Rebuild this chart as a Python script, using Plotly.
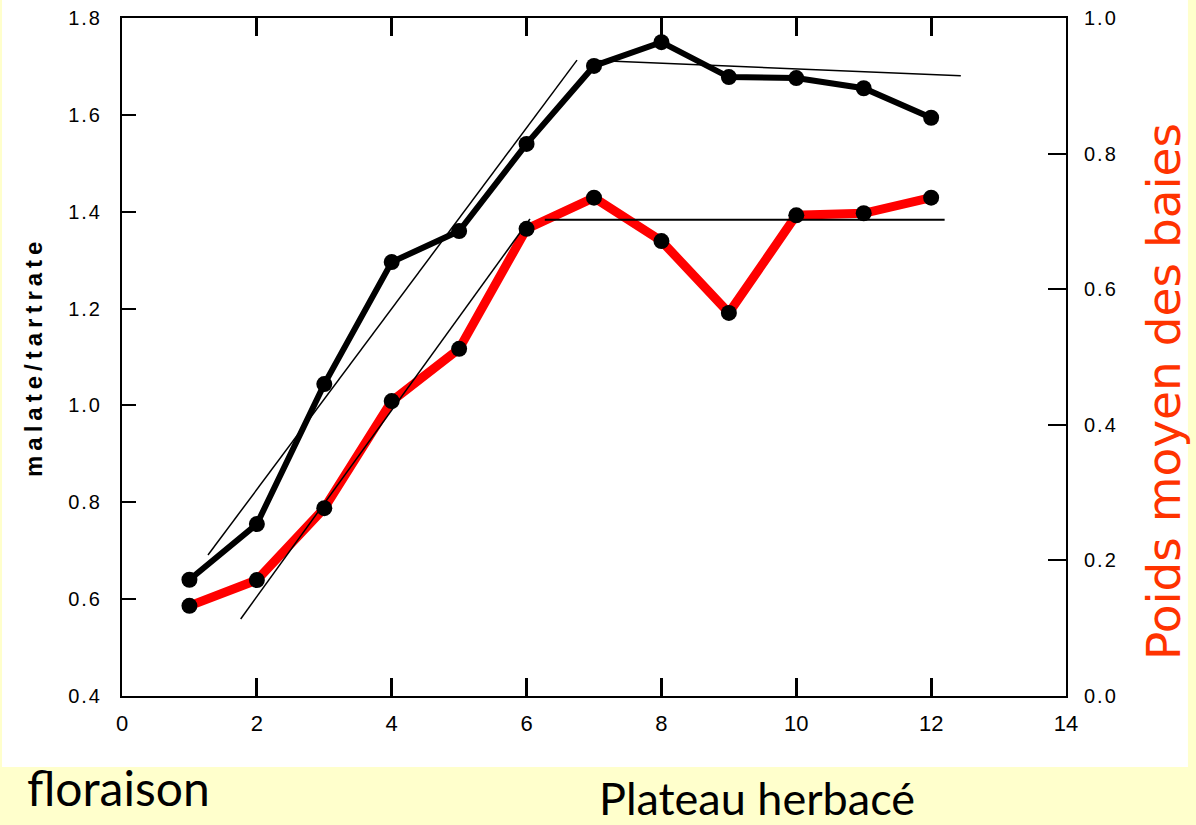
import plotly.graph_objects as go

# Data
weeks = [1, 2, 3, 4, 5, 6, 7, 8, 9, 10, 11, 12]
malate_tartrate = [0.64, 0.755, 1.044, 1.296, 1.360, 1.540, 1.701, 1.750, 1.678, 1.676, 1.655, 1.594]
poids_baies = [0.133, 0.171, 0.277, 0.435, 0.512, 0.689, 0.735, 0.671, 0.565, 0.709, 0.712, 0.735]

# Hand-drawn trend lines (x, y) endpoints
trend_mt_rise_x = [1.275, 6.748]
trend_mt_rise_y = [0.691, 1.713]
trend_mt_plateau_x = [7.04, 12.44]
trend_mt_plateau_y = [1.712, 1.681]
trend_pb_rise_x = [1.76, 6.05]
trend_pb_rise_y = [0.1136, 0.7035]
trend_pb_plateau_x = [6.27, 12.2]
trend_pb_plateau_y = [0.7025, 0.7025]

x_ticks = [0, 2, 4, 6, 8, 10, 12, 14]
y_left_ticks = [0.4, 0.6, 0.8, 1.0, 1.2, 1.4, 1.6, 1.8]
y_right_ticks = [0.0, 0.2, 0.4, 0.6, 0.8, 1.0]


def spaced(t, px):
    return '<span style="letter-spacing:%dpx">%s</span>' % (px, t)


fig = go.Figure()

fig.add_trace(go.Scatter(x=trend_mt_rise_x, y=trend_mt_rise_y, mode="lines",
                         line=dict(color="black", width=1.5), yaxis="y", showlegend=False))
fig.add_trace(go.Scatter(x=trend_mt_plateau_x, y=trend_mt_plateau_y, mode="lines",
                         line=dict(color="black", width=1.5), yaxis="y", showlegend=False))

fig.add_trace(go.Scatter(x=weeks, y=poids_baies, mode="lines+markers",
                         line=dict(color="#FF0000", width=9),
                         marker=dict(color="black", size=16),
                         yaxis="y2", showlegend=False))
fig.add_trace(go.Scatter(x=trend_pb_rise_x, y=trend_pb_rise_y, mode="lines",
                         line=dict(color="black", width=1.5), yaxis="y2", showlegend=False))
fig.add_trace(go.Scatter(x=trend_pb_plateau_x, y=trend_pb_plateau_y, mode="lines",
                         line=dict(color="black", width=2), yaxis="y2", showlegend=False))

fig.add_trace(go.Scatter(x=weeks, y=malate_tartrate, mode="lines+markers",
                         line=dict(color="black", width=6),
                         marker=dict(color="black", size=16),
                         yaxis="y", showlegend=False))

y_tick_font = dict(family="Liberation Sans", size=20, color="black")
x_tick_font = dict(family="Liberation Sans Narrow, Liberation Sans", size=22, color="black")

fig.update_layout(
    width=1196, height=825,
    margin=dict(l=122, r=130, t=18, b=129, autoexpand=False),
    paper_bgcolor="#FFFFCC",
    plot_bgcolor="white",
    xaxis=dict(range=[0, 14], tickvals=x_ticks, ticktext=[str(v) for v in x_ticks],
               ticks="inside", ticklen=18, tickwidth=3, tickcolor="black",
               showline=True, linecolor="black", linewidth=2, mirror="ticks",
               showgrid=False, zeroline=False, tickfont=x_tick_font,
               ticklabelstandoff=7, automargin=False),
    yaxis=dict(range=[0.4, 1.8], tickvals=y_left_ticks,
               ticktext=[spaced("%.1f" % v, 2) for v in y_left_ticks],
               ticks="inside", ticklen=14, tickwidth=2, tickcolor="black",
               showline=True, linecolor="black", linewidth=2,
               showgrid=False, zeroline=False, tickfont=y_tick_font,
               ticklabelstandoff=14, automargin=False),
    yaxis2=dict(range=[0.0, 1.0], tickvals=y_right_ticks,
                ticktext=[spaced("%.1f" % v, 2) for v in y_right_ticks],
                overlaying="y", side="right",
                ticks="inside", ticklen=18, tickwidth=2, tickcolor="black",
                showline=True, linecolor="black", linewidth=2,
                showgrid=False, zeroline=False, tickfont=y_tick_font,
                ticklabelstandoff=12, automargin=False),
    shapes=[dict(type="rect", xref="paper", yref="paper",
                 x0=-0.1271, x1=1.1292, y0=-0.1047, y1=1.0265,
                 fillcolor="white", line=dict(width=0), layer="below")],
    annotations=[
        dict(text="<b>" + spaced("malate/tartrate", 5) + "</b>", xref="paper", yref="paper",
             x=(33 - 122) / 944, y=(696 - 357) / 678, textangle=-90, showarrow=False,
             font=dict(family="Liberation Sans", size=24, color="black"),
             xanchor="center", yanchor="middle"),
        dict(text="Poids moyen des baies", xref="paper", yref="paper",
             x=(1163 - 122) / 944, y=(696 - 392) / 678, textangle=-90, showarrow=False,
             font=dict(family="DejaVu Sans", size=47, color="#FF3300"),
             xanchor="center", yanchor="middle"),
        dict(text="floraison", xref="paper", yref="paper",
             x=(118 - 122) / 944, y=(696 - 787) / 678, showarrow=False,
             font=dict(family="Comic Sans MS, Lato", size=48, color="black"),
             xanchor="center", yanchor="middle"),
        dict(text="Plateau herbacé", xref="paper", yref="paper",
             x=(757 - 122) / 944, y=(696 - 798) / 678, showarrow=False,
             font=dict(family="Comic Sans MS, Lato", size=45, color="black"),
             xanchor="center", yanchor="middle"),
    ],
)

fig.write_html("out.html", config={"displayModeBar": False},
               post_script="document.body.style.margin='0';document.body.style.padding='0';")
